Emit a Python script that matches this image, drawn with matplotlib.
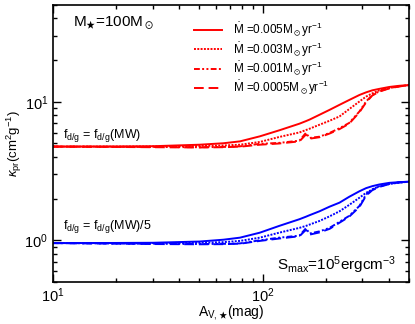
import matplotlib
matplotlib.use("Agg")
import matplotlib.pyplot as plt
from matplotlib.lines import Line2D

plt.rcParams['font.family'] = ['Liberation Sans', 'DejaVu Sans']
plt.rcParams['mathtext.fontset'] = 'custom'
plt.rcParams['mathtext.rm'] = 'Liberation Sans'
plt.rcParams['mathtext.it'] = 'Liberation Sans:italic'
plt.rcParams['mathtext.bf'] = 'Liberation Sans:bold'
plt.rcParams['mathtext.fallback'] = 'stixsans'

# Data
av = [10, 20, 30, 50, 65, 78, 97, 120, 150, 161, 168, 187, 209, 233, 259, 290, 312, 334, 361, 403, 449, 500]

red_0005 = [4.75, 4.76, 4.78, 4.90, 5.02, 5.18, 5.63, 6.22, 6.95, 7.25, 7.45, 8.06, 8.75, 9.51, 10.3, 11.2, 11.7, 12.1, 12.4, 12.8, 13.05, 13.2]
red_0003 = [4.75, 4.75, 4.76, 4.80, 4.84, 4.90, 5.13, 5.57, 6.01, 6.25, 6.40, 6.83, 7.30, 7.84, 8.85, 10.05, 10.9, 11.5, 12.1, 12.6, 12.95, 13.2]
red_0001 = [4.75, 4.73, 4.72, 4.70, 4.72, 4.77, 4.97, 5.05, 5.24, 5.96, 5.48, 5.60, 5.96, 6.45, 7.03, 8.51, 10.05, 11.2, 11.9, 12.56, 12.95, 13.2]
red_00005 = [4.75, 4.72, 4.70, 4.68, 4.70, 4.74, 4.90, 5.00, 5.18, 5.80, 5.42, 5.55, 5.90, 6.35, 6.95, 8.40, 9.90, 11.1, 11.85, 12.5, 12.9, 13.2]

blue_0005 = [0.955, 0.957, 0.96, 0.98, 1.01, 1.045, 1.135, 1.27, 1.42, 1.48, 1.52, 1.62, 1.75, 1.87, 2.06, 2.26, 2.38, 2.46, 2.53, 2.60, 2.63, 2.65]
blue_0003 = [0.955, 0.955, 0.955, 0.96, 0.97, 0.99, 1.045, 1.135, 1.23, 1.27, 1.30, 1.38, 1.49, 1.62, 1.80, 2.03, 2.20, 2.33, 2.46, 2.55, 2.61, 2.65]
blue_0001 = [0.955, 0.948, 0.944, 0.94, 0.943, 0.95, 1.0, 1.045, 1.08, 1.22, 1.12, 1.16, 1.23, 1.36, 1.50, 1.77, 2.14, 2.33, 2.45, 2.56, 2.62, 2.65]
blue_00005 = [0.955, 0.945, 0.94, 0.936, 0.938, 0.945, 0.99, 1.03, 1.07, 1.19, 1.10, 1.14, 1.21, 1.34, 1.48, 1.74, 2.10, 2.30, 2.43, 2.55, 2.62, 2.65]

legend_labels = [r'$\dot{\rm M}$ =0.005M$_\odot$yr$^{-1}$',
                 r'$\dot{\rm M}$ =0.003M$_\odot$yr$^{-1}$',
                 r'$\dot{\rm M}$ =0.001M$_\odot$yr$^{-1}$',
                 r'$\dot{\rm M}$ =0.0005M$_\odot$yr$^{-1}$']

styles = ['-', (0, (1, 0.7)), (0, (3, 1.2, 1, 1.2, 1, 1.2)), (0, (5, 2.5))]
red = '#ff0000'
blue = '#0000ff'

fig = plt.figure(figsize=(4.15, 3.24), dpi=100)
ax = fig.add_axes([0.1277, 0.1296, 0.8578, 0.855])

for ys, ls in zip([red_0005, red_0003, red_0001, red_00005], styles):
    ax.plot(av, ys, color=red, ls=ls, lw=1.4)
for ys, ls in zip([blue_0005, blue_0003, blue_0001, blue_00005], styles):
    ax.plot(av, ys, color=blue, ls=ls, lw=1.4)

ax.set_xscale('log')
ax.set_yscale('log')
ax.set_xlim(10, 500)
ax.set_ylim(0.5, 50)

ax.tick_params(which='both', direction='in', top=True, right=True, labelsize=10.5)
ax.tick_params(which='major', length=6, width=1)
ax.tick_params(which='minor', length=3, width=1)
ax.tick_params(axis='x', pad=3)
for s in ax.spines.values():
    s.set_linewidth(1.2)

ax.set_xlabel(r'A$_{\rm V,\bigstar}$(mag)', fontsize=10, labelpad=-1)
ax.set_ylabel(r'$\kappa_{\rm pr}$(cm$^2$g$^{-1}$)', fontsize=9.5, labelpad=0)

handles = [Line2D([], [], color=red, ls=ls, lw=1.4) for ls in styles]
ax.legend(handles, legend_labels, loc='upper left', frameon=False, fontsize=8.5,
          handlelength=2.4, handletextpad=0.9, labelspacing=0.08,
          bbox_to_anchor=(0.385, 0.955), borderaxespad=0.0, borderpad=0.3)

ax.text(0.055, 0.935, r'M$_\bigstar$=100M$_\odot$', transform=ax.transAxes, fontsize=11,
        va='center', ha='left')
ax.text(0.028, 0.53, r'f$_{\rm d/g}$ = f$_{\rm d/g}$(MW)', transform=ax.transAxes, fontsize=9,
        va='center', ha='left')
ax.text(0.028, 0.2, r'f$_{\rm d/g}$ = f$_{\rm d/g}$(MW)/5', transform=ax.transAxes, fontsize=9,
        va='center', ha='left')
ax.text(0.965, 0.06, r'S$_{\rm max}$=10$^5$ergcm$^{-3}$', transform=ax.transAxes, fontsize=11,
        va='center', ha='right')

fig.savefig('out.png', dpi=100)
